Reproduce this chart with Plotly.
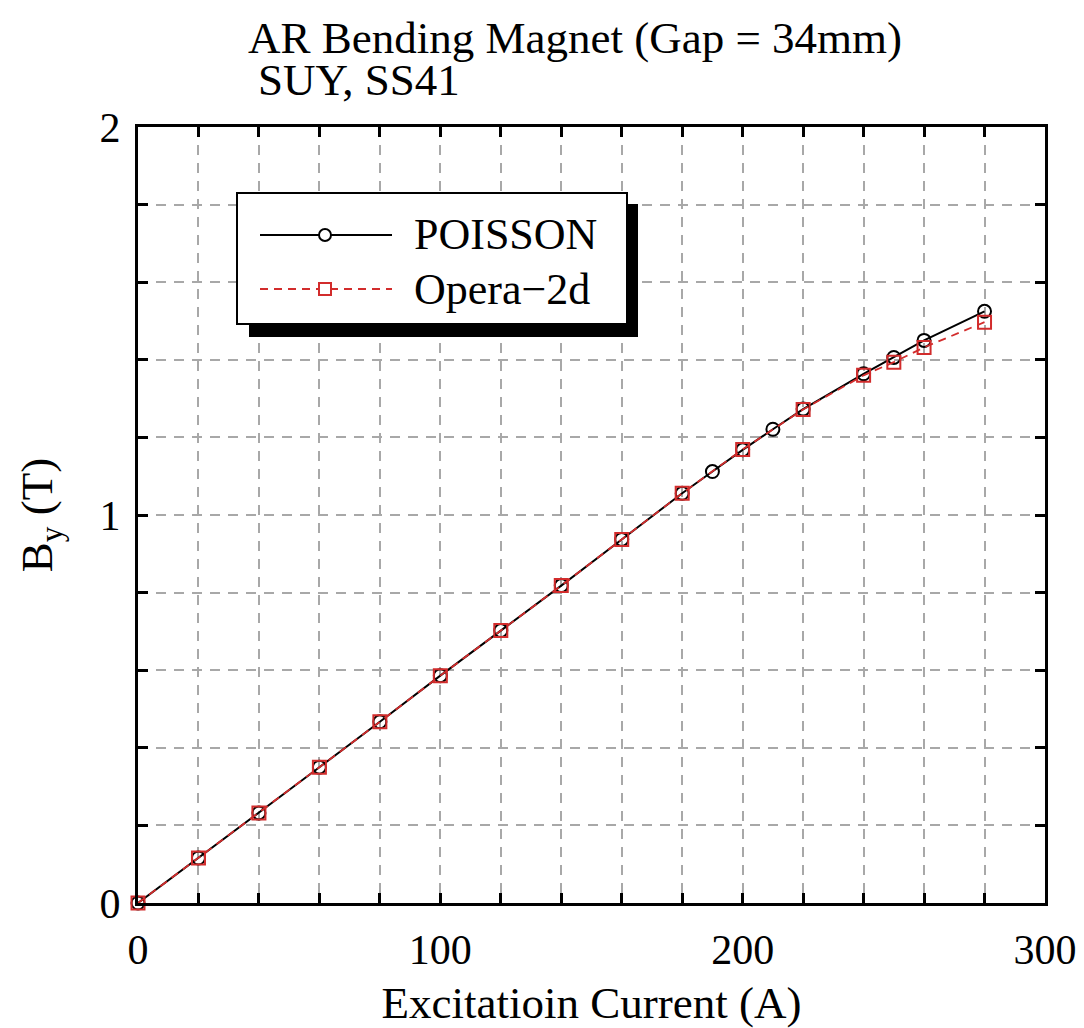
import plotly.graph_objects as go

# ---- data ----
poisson_x = [0, 20, 40, 60, 80, 100, 120, 140, 160, 180, 190, 200, 210, 220, 240, 250, 260, 280]
poisson_y = [0.0, 0.116, 0.232, 0.350, 0.467, 0.586, 0.702, 0.818, 0.937, 1.056, 1.112, 1.168, 1.221, 1.273, 1.364, 1.406, 1.450, 1.525]

opera_x = [0, 20, 40, 60, 80, 100, 120, 140, 160, 180, 200, 220, 240, 250, 260, 280]
opera_y = [0.0, 0.116, 0.232, 0.350, 0.467, 0.586, 0.702, 0.818, 0.937, 1.056, 1.169, 1.272, 1.360, 1.394, 1.432, 1.497]

x_major = [0, 100, 200, 300]
x_labels = ["0", "100", "200", "300"]
y_major = [0, 1, 2]
y_labels = ["0", "1", "2"]

title1 = "AR Bending Magnet (Gap = 34mm)"
title2 = "SUY, SS41"
x_title = "Excitatioin Current (A)"
y_title = "B<sub>y</sub> (T)"
names = ["POISSON", "Opera\u22122d"]

FONT = "Liberation Serif, DejaVu Serif, serif"
RED = "#d22c2c"

fig = go.Figure()
fig.add_trace(go.Scatter(
    x=poisson_x, y=poisson_y, mode="lines+markers", name=names[0],
    line=dict(color="black", width=2),
    marker=dict(symbol="circle-open", size=13, color="black", line=dict(width=2)),
    cliponaxis=False,
))
fig.add_trace(go.Scatter(
    x=opera_x, y=opera_y, mode="lines+markers", name=names[1],
    line=dict(color=RED, width=1.8, dash="8px,6px"),
    marker=dict(symbol="square-open", size=13, color=RED, line=dict(width=2)),
    cliponaxis=False,
))

# page body has an 8px margin; figure is sized so the plot lands where the reference has it
OFF = 8
W, H = 1084 - OFF, 1028 - OFF
L, R, T, B = 138 - OFF, 39, 127 - OFF, 125
PW, PH = W - L - R, H - T - B


def px(xs):
    return (xs - OFF - L) / PW


def py(ys):
    return (H - B - (ys - OFF)) / PH


shapes = []
# legend shadow and box
shapes.append(dict(type="rect", xref="paper", yref="paper", layer="above",
                   x0=px(249), x1=px(638), y0=py(337), y1=py(204),
                   fillcolor="black", line=dict(width=0)))
shapes.append(dict(type="rect", xref="paper", yref="paper", layer="above",
                   x0=px(237), x1=px(627), y0=py(324), y1=py(193),
                   fillcolor="white", line=dict(color="black", width=2)))
# legend line samples
shapes.append(dict(type="line", xref="paper", yref="paper", layer="above",
                   x0=px(260), x1=px(392), y0=py(235), y1=py(235),
                   line=dict(color="black", width=2)))
shapes.append(dict(type="line", xref="paper", yref="paper", layer="above",
                   x0=px(260), x1=px(392), y0=py(289), y1=py(289),
                   line=dict(color=RED, width=1.8, dash="8px,6px")))
# legend marker samples
r = 6
shapes.append(dict(type="circle", xref="paper", yref="paper", layer="above",
                   x0=px(325 - r), x1=px(325 + r), y0=py(235 + r), y1=py(235 - r),
                   fillcolor="white", line=dict(color="black", width=2)))
shapes.append(dict(type="rect", xref="paper", yref="paper", layer="above",
                   x0=px(325 - r), x1=px(325 + r), y0=py(289 + r), y1=py(289 - r),
                   fillcolor="white", line=dict(color=RED, width=2)))

annotations = [
    dict(text=title1, xref="paper", yref="paper", x=px(246), y=py(38),
         xanchor="left", yanchor="middle", showarrow=False,
         font=dict(family=FONT, size=45, color="black")),
    dict(text=title2, xref="paper", yref="paper", x=px(256), y=py(80),
         xanchor="left", yanchor="middle", showarrow=False,
         font=dict(family=FONT, size=45, color="black")),
    dict(text=names[0], xref="paper", yref="paper", x=px(412), y=py(235),
         xanchor="left", yanchor="middle", showarrow=False,
         font=dict(family=FONT, size=44, color="black")),
    dict(text=names[1], xref="paper", yref="paper", x=px(412), y=py(289),
         xanchor="left", yanchor="middle", showarrow=False,
         font=dict(family=FONT, size=44, color="black")),
]

axis_common = dict(
    showline=True, linecolor="black", linewidth=3, mirror="ticks",
    ticks="inside", ticklen=10, tickwidth=3, tickcolor="black",
    showgrid=True, gridcolor="#a8a8a8", gridwidth=1.5, griddash="10px,8px",
    zeroline=False, tickmode="array",
    tickfont=dict(family=FONT, size=42, color="black"),
)

fig.update_layout(
    width=W, height=H,
    margin=dict(l=L, r=R, t=T, b=B, autoexpand=False),
    paper_bgcolor="white", plot_bgcolor="white",
    showlegend=False,
    shapes=shapes,
    annotations=annotations,
    xaxis=dict(range=[0, 300], tickvals=x_major, ticktext=x_labels,
               minor=dict(dtick=20, tick0=0, ticks="inside", ticklen=10, tickwidth=3,
                          tickcolor="black", showgrid=True, gridcolor="#a8a8a8",
                          gridwidth=1.5, griddash="10px,8px"),
               ticklabelstandoff=8,
               title=dict(text=x_title, font=dict(family=FONT, size=45, color="black"), standoff=20),
               **axis_common),
    yaxis=dict(range=[0, 2], tickvals=y_major, ticktext=y_labels,
               minor=dict(dtick=0.2, tick0=0, ticks="inside", ticklen=10, tickwidth=3,
                          tickcolor="black", showgrid=True, gridcolor="#a8a8a8",
                          gridwidth=1.5, griddash="10px,8px"),
               ticklabelstandoff=6,
               title=dict(text=y_title, font=dict(family=FONT, size=45, color="black"), standoff=33),
               **axis_common),
)

fig.write_html("out.html")
